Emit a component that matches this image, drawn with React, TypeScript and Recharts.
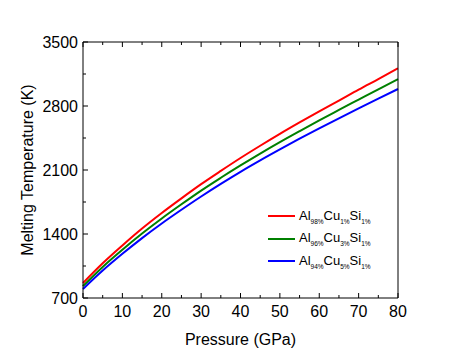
import React from "react";
import { LineChart, Line, XAxis, YAxis } from "recharts";

const pressure = [0, 5, 10, 15, 20, 25, 30, 35, 40, 45, 50, 55, 60, 65, 70, 75, 80];
const alCu1 = [864, 1080, 1275, 1460, 1630, 1790, 1945, 2090, 2231, 2365, 2495, 2620, 2742, 2860, 2980, 3095, 3212];
const alCu3 = [830, 1040, 1228, 1405, 1570, 1725, 1875, 2015, 2150, 2280, 2405, 2525, 2643, 2757, 2870, 2983, 3095];
const alCu5 = [798, 1000, 1183, 1355, 1515, 1665, 1810, 1948, 2080, 2205, 2325, 2442, 2555, 2665, 2773, 2880, 2986];

const xTicks = [0, 5, 10, 15, 20, 25, 30, 35, 40, 45, 50, 55, 60, 65, 70, 75, 80];
const yTicks = [700, 1050, 1400, 1750, 2100, 2450, 2800, 3150, 3500];

const series = [
  { key: "a", color: "#ff0000", main: ["Al", "Cu", "Si"], sub: ["98%", "1%", "1%"] },
  { key: "b", color: "#008000", main: ["Al", "Cu", "Si"], sub: ["96%", "3%", "1%"] },
  { key: "c", color: "#0000ff", main: ["Al", "Cu", "Si"], sub: ["94%", "5%", "1%"] },
];

const data = pressure.map((p, i) => ({ p, a: alCu1[i], b: alCu3[i], c: alCu5[i] }));

const FONT = "'Liberation Sans', Arial, sans-serif";

// ticks point into the plot; every other tick is a minor one without a label
function BottomTick({ x, y, payload }: any) {
  const major = payload.value % 10 === 0;
  return (
    <g>
      <line x1={x} x2={x} y1={y} y2={y - (major ? 5 : 3)} stroke="#000" />
      {major && (
        <text x={x} y={y + 13} dy="0.355em" textAnchor="middle" fontSize={16} fill="#000" fontFamily={FONT}>
          {payload.value}
        </text>
      )}
    </g>
  );
}

function TopTick({ x, y, payload }: any) {
  const major = payload.value % 10 === 0;
  return <line x1={x} x2={x} y1={y} y2={y + (major ? 5 : 3)} stroke="#000" />;
}

function LeftTick({ x, y, payload }: any) {
  const major = payload.value % 700 === 0;
  return (
    <g>
      <line x1={x} x2={x + (major ? 5 : 3)} y1={y} y2={y} stroke="#000" />
      {major && (
        <text x={x - 5} y={y} dy="0.355em" textAnchor="end" fontSize={16} fill="#000" fontFamily={FONT}>
          {payload.value}
        </text>
      )}
    </g>
  );
}

function RightTick({ x, y, payload }: any) {
  const major = payload.value % 700 === 0;
  return <line x1={x} x2={x - (major ? 5 : 3)} y1={y} y2={y} stroke="#000" />;
}

function LegendBox() {
  return (
    <div style={{ position: "absolute", left: 268, top: 205, fontFamily: FONT, fontSize: 13, color: "#000" }}>
      {series.map((s) => (
        <div key={s.key} style={{ display: "flex", alignItems: "center", height: 22.5 }}>
          <div style={{ width: 27, height: 2, background: s.color, marginRight: 4 }} />
          <span style={{ whiteSpace: "nowrap" }}>
            {s.main.map((m, i) => (
              <React.Fragment key={i}>
                {m}
                <sub style={{ fontSize: 6.5 }}>{s.sub[i]}</sub>
              </React.Fragment>
            ))}
          </span>
        </div>
      ))}
    </div>
  );
}

export default function App() {
  return (
    <div style={{ position: "absolute", left: 0, top: 0, width: 463, height: 358, background: "#fff" }}>
      <LineChart width={463} height={358} data={data} margin={{ top: 41, right: 64, bottom: 0, left: 0 }}>
        <XAxis
          dataKey="p"
          type="number"
          domain={[0, 80]}
          ticks={xTicks}
          interval={0}
          height={60}
          tickSize={0}
          tickMargin={0}
          tickLine={false}
          axisLine={{ stroke: "#000" }}
          tick={<BottomTick />}
          label={{ value: "Pressure (GPa)", position: "insideBottom", offset: 13, fontSize: 16, fill: "#000", fontFamily: FONT }}
        />
        <XAxis
          xAxisId="top"
          dataKey="p"
          type="number"
          orientation="top"
          domain={[0, 80]}
          ticks={xTicks}
          interval={0}
          height={1}
          tickSize={0}
          tickMargin={0}
          tickLine={false}
          axisLine={{ stroke: "#000" }}
          tick={<TopTick />}
        />
        <YAxis
          type="number"
          domain={[700, 3500]}
          ticks={yTicks}
          interval={0}
          width={83}
          tickSize={0}
          tickMargin={0}
          tickLine={false}
          axisLine={{ stroke: "#000" }}
          tick={<LeftTick />}
          label={{ value: "Melting Temperature (K)", angle: -90, position: "center", dx: -14, fontSize: 16, fill: "#000", fontFamily: FONT }}
        />
        <YAxis
          yAxisId="right"
          orientation="right"
          type="number"
          domain={[700, 3500]}
          ticks={yTicks}
          interval={0}
          width={1}
          tickSize={0}
          tickMargin={0}
          tickLine={false}
          axisLine={{ stroke: "#000" }}
          tick={<RightTick />}
        />
        {series.map((s) => (
          <Line
            key={s.key}
            dataKey={s.key}
            type="monotone"
            stroke={s.color}
            strokeWidth={2}
            dot={false}
            isAnimationActive={false}
          />
        ))}
      </LineChart>
      <LegendBox />
    </div>
  );
}
